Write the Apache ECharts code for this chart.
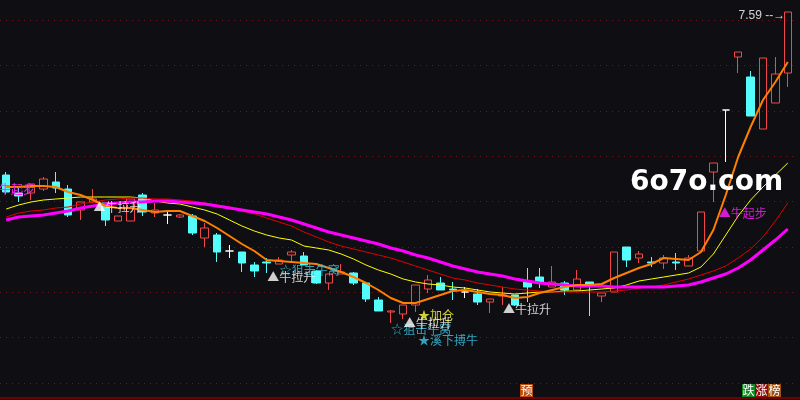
<!DOCTYPE html>
<html><head><meta charset="utf-8">
<script src="https://cdn.jsdelivr.net/npm/echarts@6/dist/echarts.min.js"></script>
<style>html,body{margin:0;padding:0;background:#0f0f13;}#c{width:800px;height:400px;}</style>
</head><body><div id="c"></div>
<script>
const categories = ['1','2','3','4','5','6','7','8','9','10','11','12','13','14','15','16','17','18','19','20','21','22','23','24','25','26','27','28','29','30','31','32','33','34','35','36','37','38','39','40','41','42','43','44','45','46','47','48','49','50','51','52','53','54','55','56','57','58','59','60','61','62','63','64'];
const opens = [5.96,5.78,5.78,5.82,5.89,5.82,5.61,5.69,5.68,5.50, 5.50,5.76,5.58,5.56,5.54,5.55,5.33,5.36,5.20,5.19, 5.06,5.09,5.07,5.16,5.15,5.00,4.88,4.97,4.98,4.88, 4.71,4.59,4.57,4.66,4.82,4.88,4.82,4.79,4.77,4.69, 4.75,4.76,4.89,4.94,4.84,4.88,4.81,4.89,4.75,4.79, 5.24,5.13,5.09,5.08,5.09,5.05,5.20,5.99,6.61,7.14, 6.94,6.42,6.68,6.98];
const closes = [5.79,5.75,5.87,5.92,5.83,5.56,5.69,5.72,5.51,5.55, 5.72,5.59,5.61,5.56,5.56,5.38,5.43,5.19,5.20,5.08, 5.00,5.08,5.11,5.19,5.06,4.88,4.97,4.99,4.88,4.72, 4.60,4.60,4.66,4.86,4.91,4.81,4.81,4.79,4.69,4.72, 4.76,4.66,4.84,4.88,4.89,4.81,4.92,4.85,4.78,5.19, 5.11,5.17,5.08,5.13,5.08,5.13,5.59,6.08,6.61,7.19, 6.55,7.13,6.97,7.59];
const lows = [5.77,5.69,5.71,5.80,5.78,5.54,5.51,5.68,5.45,5.50, 5.50,5.55,5.54,5.47,5.53,5.36,5.24,5.09,5.13,4.99, 4.94,4.98,5.07,5.09,5.06,4.87,4.81,4.97,4.86,4.69, 4.60,4.48,4.52,4.59,4.78,4.81,4.71,4.73,4.66,4.58, 4.66,4.65,4.69,4.83,4.84,4.76,4.80,4.55,4.69,4.79, 5.04,5.08,5.04,5.02,5.01,5.05,5.20,5.69,6.09,6.98, 6.55,6.42,6.68,6.84];
const highs = [5.99,5.85,5.87,5.94,5.99,5.86,5.69,5.82,5.68,5.55, 5.72,5.78,5.68,5.59,5.57,5.57,5.48,5.38,5.26,5.19, 5.09,5.13,5.14,5.21,5.19,5.01,4.97,5.07,4.99,4.88, 4.74,4.61,4.66,4.86,4.96,4.94,4.89,4.84,4.82,4.72, 4.84,4.76,5.03,5.03,5.05,4.90,5.01,4.89,4.78,5.19, 5.24,5.20,5.14,5.16,5.18,5.16,5.59,6.08,6.61,7.19, 7.00,7.13,7.14,7.59];
const maOrange = [5.84,5.84,5.85,5.85,5.84,5.79,5.76,5.71,5.65,5.63, 5.63,5.61,5.59,5.60,5.60,5.55,5.50,5.43,5.35,5.27, 5.20,5.11,5.10,5.09,5.08,5.07,5.03,4.99,4.94,4.88, 4.81,4.73,4.68,4.68,4.72,4.76,4.80,4.81,4.79,4.77, 4.76,4.73,4.74,4.78,4.81,4.84,4.86,4.86,4.87,4.93, 4.98,5.03,5.07,5.13,5.12,5.11,5.19,5.41,5.76,6.14, 6.44,6.71,6.89,7.09];
const maYellow = [5.62,5.66,5.69,5.71,5.72,5.73,5.74,5.74,5.74,5.74, 5.74,5.73,5.70,5.68,5.67,5.64,5.61,5.57,5.51,5.45, 5.40,5.36,5.33,5.31,5.25,5.23,5.21,5.17,5.12,5.06, 5.01,4.97,4.92,4.89,4.87,4.86,4.84,4.83,4.81,4.79, 4.78,4.77,4.78,4.79,4.79,4.80,4.80,4.81,4.82,4.83, 4.86,4.90,4.92,4.94,4.96,4.98,5.04,5.17,5.36,5.55, 5.71,5.84,5.96,6.08];
const maRed = [5.54,5.58,5.60,5.61,5.63,5.64,5.67,5.69,5.71,5.72, 5.73,5.73,5.72,5.72,5.71,5.70,5.68,5.66,5.64,5.60, 5.57,5.53,5.49,5.45,5.39,5.34,5.29,5.25,5.22,5.19, 5.16,5.13,5.09,5.05,5.01,4.97,4.93,4.91,4.88,4.86, 4.84,4.82,4.81,4.80,4.79,4.79,4.79,4.79,4.79,4.80, 4.81,4.83,4.84,4.86,4.89,4.92,4.96,5.00,5.05,5.13, 5.22,5.34,5.50,5.68];
const maMagenta = [5.51,5.54,5.55,5.56,5.58,5.60,5.63,5.65,5.67,5.68, 5.69,5.69,5.70,5.70,5.69,5.68,5.67,5.65,5.63,5.61, 5.59,5.57,5.54,5.51,5.47,5.43,5.39,5.36,5.33,5.30, 5.27,5.23,5.20,5.16,5.13,5.09,5.05,5.02,4.99,4.97, 4.95,4.92,4.90,4.88,4.87,4.86,4.85,4.85,4.85,4.84, 4.84,4.84,4.84,4.84,4.85,4.86,4.89,4.93,4.97,5.03, 5.11,5.21,5.31,5.42];
// signal marks (candle indices, 0-based)
const laShenIdx = [7, 21, 32, 40];
const qiBuIdx = [57];
const niuWoIdx = [22, 31];
const jiaCangIdx = [33];
const boNiuIdx = [33];
const bottomBadge = ['预'];
const rankBadge = ['跌', '涨', '榜'];

const chart = echarts.init(document.getElementById('c'));
const candleData = opens.map((o, i) => [o, closes[i], lows[i], highs[i]]);
const sig = list => list.map(i => [i, lows[i]]);
const hiIdx = highs.indexOf(Math.max.apply(null, highs));
const CJK = '"Noto Sans CJK SC", sans-serif';
function sigSeries(list, text, color, offset) {
  return {
    type: 'scatter', data: sig(list), symbolSize: 1, z: 6, silent: true,
    itemStyle: { color: 'rgba(0,0,0,0)' },
    label: { show: true, formatter: text, position: 'right', distance: 0, offset: offset,
      color: color, fontSize: 12, fontFamily: CJK }
  };
}
function maSeries(data, color, width) {
  return { type: 'line', data: data, symbol: 'none', silent: true, z: 3,
    lineStyle: { color: color, width: width } };
}
const badgeColors = ['#0f8a1e', '#8c1010', '#a0500c'];
const graphics = [
  { type: 'text', x: 630, y: 169, z: 10, style: { text: '6o7o.com', fill: '#ffffff', font: 'bold 28px "DejaVu Sans"' } },
  { type: 'text', x: -13, y: 183, z: 10, style: { text: '▲牛起步', fill: '#ff20ff', font: '12px ' + CJK } },
  { type: 'rect', shape: { x: 520, y: 384, width: 13, height: 13 }, style: { fill: '#bc4c0c' } },
  { type: 'text', x: 520.5, y: 384.5, style: { text: bottomBadge[0], fill: '#ffffff', font: '12px ' + CJK } }
];
rankBadge.forEach((t, k) => {
  graphics.push({ type: 'rect', shape: { x: 742 + k * 13, y: 384, width: 13, height: 13 }, style: { fill: badgeColors[k] } });
  graphics.push({ type: 'text', x: 742.5 + k * 13, y: 384.5, style: { text: t, fill: '#ffffff', font: '12px ' + CJK } });
});

chart.setOption({
  backgroundColor: '#0f0f13',
  animation: false,
  grid: [{ left: 0, right: 6, top: 20, bottom: 17 }, { left: 0, right: 0, top: 397, height: 1 }],
  xAxis: [
    { type: 'category', data: categories, boundaryGap: true, axisLine: { show: false }, axisTick: { show: false }, axisLabel: { show: false }, splitLine: { show: false } },
    { type: 'value', gridIndex: 1, min: 0, max: 1, axisLine: { show: true, onZero: false, lineStyle: { color: '#8b0000', width: 1.5 } }, axisTick: { show: false }, axisLabel: { show: false }, splitLine: { show: false } }
  ],
  yAxis: [
    { type: 'value', min: 3.88, max: 7.51, axisLine: { show: false }, axisTick: { show: false }, axisLabel: { show: false }, splitLine: { show: false } },
    { type: 'value', min: 0, max: 8, interval: 1, axisLine: { show: false }, axisTick: { show: false }, axisLabel: { show: false },
      splitLine: { show: true, lineStyle: { color: '#701818', type: [1, 5], width: 1 } } },
    { type: 'value', gridIndex: 1, show: false, min: 0, max: 1 }
  ],
  graphic: graphics,
  series: [
    {
      type: 'candlestick', data: candleData, barWidth: 8, clip: false, z: 2, silent: true,
      itemStyle: { color: 'rgba(0,0,0,0)', color0: '#54fcfc', borderColor: '#f04848', borderColor0: '#54fcfc', borderColorDoji: '#ffffff', borderWidth: 1 }
    },
    maSeries(maYellow, '#ffff00', 1),
    maSeries(maRed, '#e00000', 1),
    maSeries(maMagenta, '#ff00ff', 3),
    maSeries(maOrange, '#ff8000', 2),
    {
      type: 'scatter', data: [[hiIdx, highs[hiIdx]]], symbolSize: 1, z: 6, silent: true, clip: false,
      itemStyle: { color: 'rgba(0,0,0,0)' },
      label: { show: true, position: 'left', distance: 2, offset: [0, 4], color: '#ffffff', fontSize: 12,
        fontFamily: '"Liberation Sans", sans-serif', formatter: p => Number(p.value[1]).toFixed(2) + ' --→' }
    },
    sigSeries(jiaCangIdx, '★加仓', '#ffff40', [2, 3]),
    sigSeries(niuWoIdx, '☆狙击牛窝', '#3cc8e6', [0, 6]),
    sigSeries(laShenIdx, '▲牛拉升', '#ffffff', [0, 4]),
    sigSeries(boNiuIdx, '★溪下搏牛', '#3cc8e6', [2, 28]),
    sigSeries(qiBuIdx, '▲牛起步', '#ff20ff', [5, 11])
  ]
});
</script></body></html>
